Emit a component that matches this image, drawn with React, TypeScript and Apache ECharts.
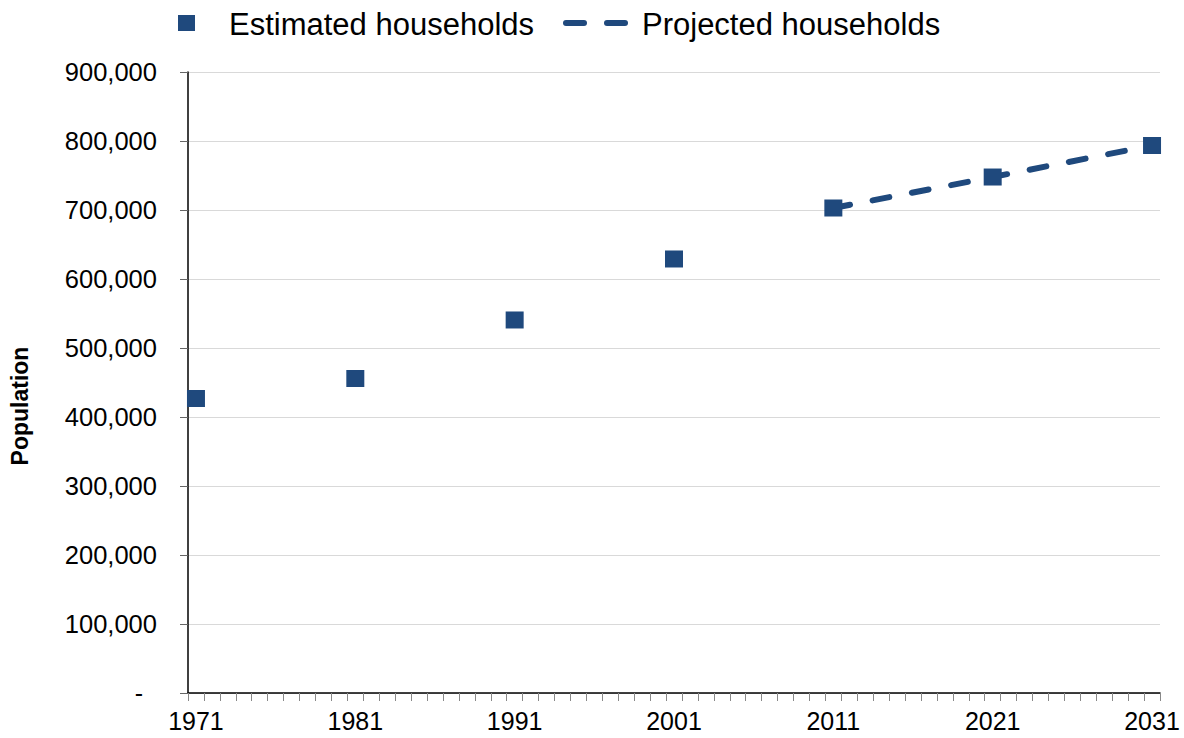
import React, { useEffect, useRef } from "react";
import * as echarts from "echarts";

const YEARS: string[] = [];
for (let y = 1971; y <= 2031; y++) YEARS.push(String(y));

const EST_YEARS = ["1971", "1981", "1991", "2001", "2011", "2021", "2031"];
const EST_VALUES = [426800, 455800, 540600, 629000, 702900, 747800, 793500];

const PROJ_YEARS = ["2011", "2021", "2031"];
const PROJ_VALUES = [702900, 747800, 793500];

const COLOR = "#1F497D";
const FONT = "'Liberation Sans', Arial, sans-serif";

export default function App() {
  const ref = useRef<HTMLDivElement>(null);
  useEffect(() => {
    if (!ref.current) return;
    const chart = echarts.init(ref.current, undefined, { renderer: "svg" });
    chart.setOption({
      animation: false,
      backgroundColor: "#ffffff",
      textStyle: { fontFamily: FONT },
      grid: { left: 188, right: 24, top: 72, bottom: 45, containLabel: false },
      xAxis: {
        type: "category",
        data: YEARS,
        boundaryGap: true,
        axisLine: { show: true, lineStyle: { color: "#000000", width: 1.5 } },
        axisTick: { show: true, interval: 0, length: 8, lineStyle: { color: "#888888", width: 1 } },
        axisLabel: {
          interval: 9,
          fontSize: 25,
          color: "#000000",
          fontFamily: FONT,
          margin: 15,
        },
        splitLine: { show: false },
      },
      yAxis: {
        type: "value",
        min: 0,
        max: 900000,
        interval: 100000,
        axisLine: { show: true, lineStyle: { color: "#000000", width: 1.5 } },
        axisTick: { show: true, length: 8, lineStyle: { color: "#666666" } },
        axisLabel: {
          fontSize: 25.5,
          color: "#000000",
          fontFamily: FONT,
          margin: 31,
          formatter: (v: number) =>
            v === 0 ? "{d|-}" : v.toLocaleString("en-US"),
          rich: {
            d: { fontSize: 25, color: "#000000", fontFamily: FONT, padding: [0, 14, 0, 0] },
          },
        },
        splitLine: { show: true, lineStyle: { color: "#d9d9d9", width: 1 } },
      },
      series: [
        {
          name: "Projected households",
          type: "line",
          data: PROJ_YEARS.map((y, i) => [y, PROJ_VALUES[i]]),
          symbol: "none",
          z: 2,
          lineStyle: { color: COLOR, width: 6, type: [17, 23], cap: "round" },
        },
        {
          name: "Estimated households",
          type: "scatter",
          data: EST_YEARS.map((y, i) => [y, EST_VALUES[i]]),
          symbol: "rect",
          symbolSize: [18, 17],
          z: 3,
          itemStyle: { color: COLOR, opacity: 1 },
        },
      ],
      graphic: [
        {
          type: "rect",
          shape: { x: 178, y: 15, width: 17, height: 16 },
          style: { fill: COLOR },
        },
        {
          type: "text",
          x: 229,
          y: 24,
          style: {
            text: "Estimated households",
            fontSize: 31,
            fontFamily: FONT,
            fill: "#000000",
            verticalAlign: "middle",
          },
        },
        {
          type: "line",
          shape: { x1: 566, y1: 23, x2: 584, y2: 23 },
          style: { stroke: COLOR, lineWidth: 6, lineCap: "round" },
        },
        {
          type: "line",
          shape: { x1: 607, y1: 23, x2: 625, y2: 23 },
          style: { stroke: COLOR, lineWidth: 6, lineCap: "round" },
        },
        {
          type: "text",
          x: 642,
          y: 24,
          style: {
            text: "Projected households",
            fontSize: 31,
            fontFamily: FONT,
            fill: "#000000",
            verticalAlign: "middle",
          },
        },
        {
          type: "text",
          x: 20,
          y: 406,
          rotation: Math.PI / 2,
          style: {
            text: "Population",
            fontSize: 23,
            fontWeight: "bold",
            fontFamily: FONT,
            fill: "#000000",
            align: "center",
            verticalAlign: "middle",
          },
        },
      ],
    });
    return () => chart.dispose();
  }, []);
  return (
    <div
      ref={ref}
      style={{ position: "absolute", left: 0, top: 0, width: 1184, height: 738 }}
    />
  );
}
